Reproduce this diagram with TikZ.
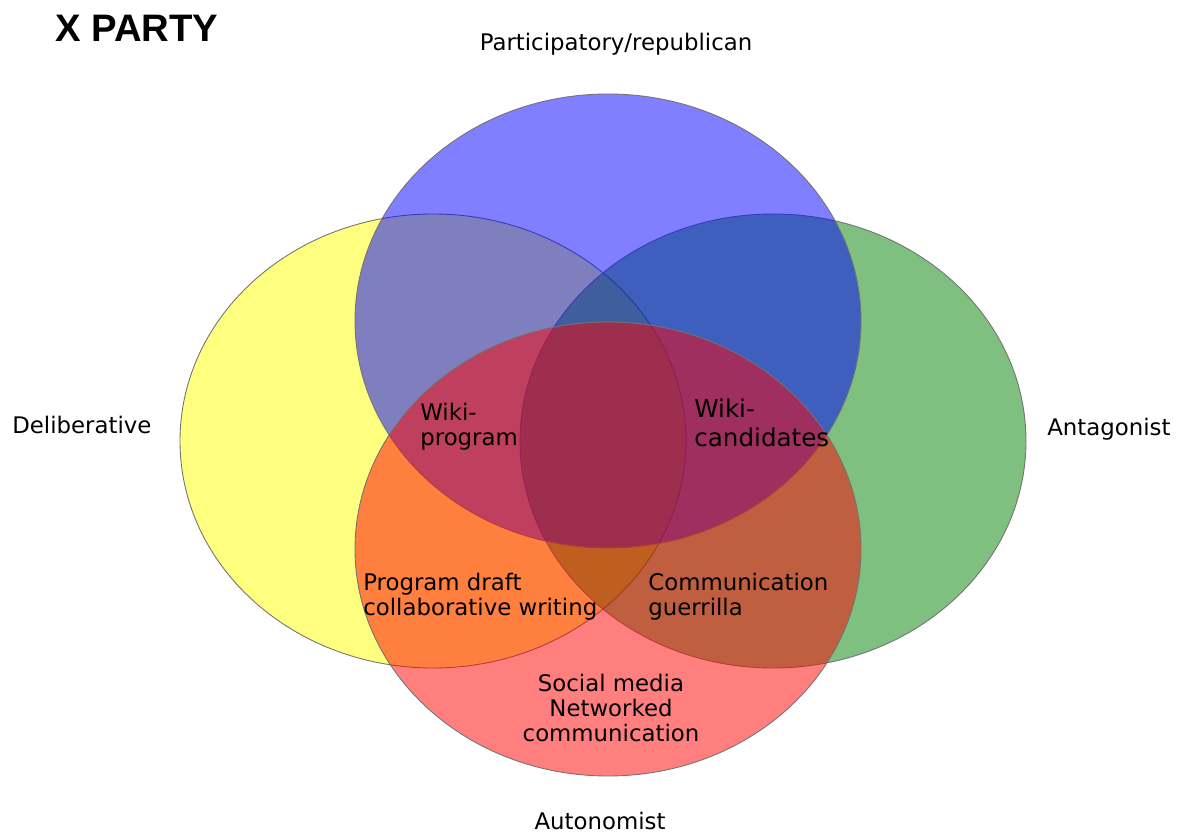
\documentclass[tikz,border=0pt]{standalone}
\usepackage{fontspec}
\setmainfont{DejaVu Sans}
\newfontfamily\titlefont{Liberation Sans}
\usepackage{tikz}

\tikzset{
  set/.style={draw=black!55, line width=0.5pt, fill opacity=0.5},
  lbl/.style={font=\fontsize{13}{14.2}\selectfont, inner sep=0pt},
  zone/.style={lbl, align=left, anchor=base west}
}

\begin{document}
\begin{tikzpicture}[x=0.02cm, y=-0.02cm]
	\useasboundingbox (0,0) rectangle (1180,834);
	
	% halmazok
	\draw[set, fill={rgb,255:red,255;green,255;blue,0}] (433,441) ellipse (253 and 227);
	\draw[set, fill={rgb,255:red,0;green,128;blue,0}] (773,441) ellipse (253 and 227);
	\draw[set, fill={rgb,255:red,0;green,0;blue,255}] (608,321) ellipse (253 and 227);
	\draw[set, fill={rgb,255:red,255;green,0;blue,0}] (608,549) ellipse (253 and 227);
	
	% cim
	\node[anchor=base west, inner sep=0pt, font=\titlefont\bfseries\fontsize{21.8}{25}\selectfont] (title) at (55,42) {X PARTY};
	
	% halmazok nevei
	\node[lbl, anchor=base] (part) at (616,51) {Participatory/republican};
	\node[lbl, anchor=base west] (delib) at (12,434) {Deliberative};
	\node[lbl, anchor=base west] (antag) at (1047,436) {Antagonist};
	\node[lbl, anchor=base] (auton) at (600,829) {Autonomist};
	
	% metszetek
	\node[zone] (wprog) at (420,445) {Wiki-\\program};
	\node[zone, font=\fontsize{14}{16}\selectfont] (wcand) at (694,446) {Wiki-\\candidates};
	\node[zone] (draft) at (363,615) {Program draft\\collaborative writing};
	\node[zone] (guer) at (648,615) {Communication\\guerrilla};
	\node[lbl, align=center, anchor=base] (social) at (611,741) {Social media\\Networked\\communication};
	
\end{tikzpicture}
\end{document}
